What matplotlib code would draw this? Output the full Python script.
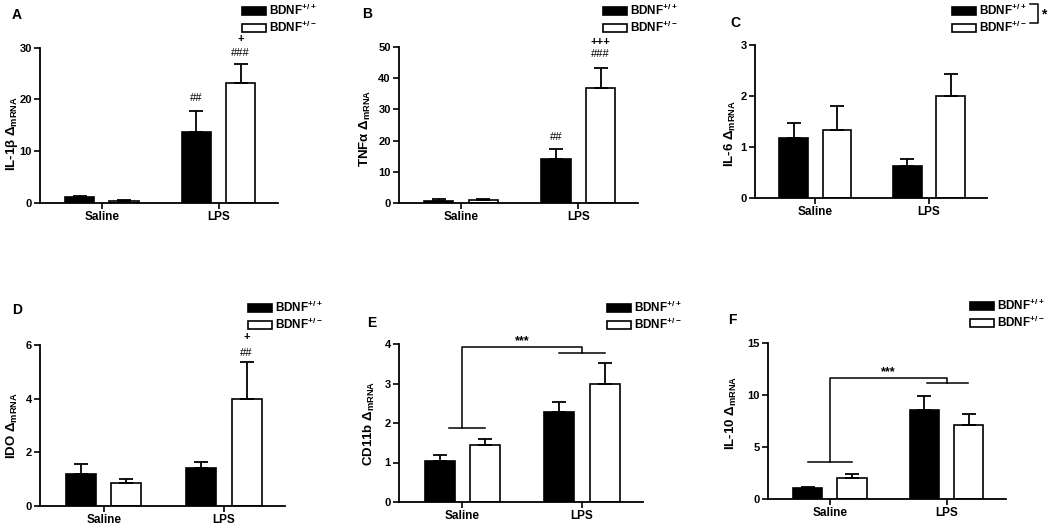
import matplotlib
matplotlib.use('Agg')
import matplotlib.pyplot as plt
import numpy as np
from matplotlib.lines import Line2D
from matplotlib.patches import Patch

plt.rcParams['font.family'] = ['Liberation Sans', 'DejaVu Sans']
plt.rcParams['font.weight'] = 'bold'
plt.rcParams['mathtext.fontset'] = 'custom'
plt.rcParams['mathtext.rm'] = 'Liberation Sans:bold'
plt.rcParams['mathtext.it'] = 'Liberation Sans:bold'
plt.rcParams['mathtext.bf'] = 'Liberation Sans:bold'

groups = ['Saline', 'LPS']
genotypes = ['BDNF$^{+/+}$', 'BDNF$^{+/-}$']

# mean and top of error bar (SEM), [Saline, LPS]
il1b_wt = [1.1, 13.8];   il1b_wt_top = [1.4, 17.7]
il1b_het = [0.4, 23.1];  il1b_het_top = [0.5, 26.9]
tnf_wt = [0.8, 14.0];    tnf_wt_top = [1.2, 17.2]
tnf_het = [1.1, 37.0];   tnf_het_top = [1.4, 43.3]
il6_wt = [1.18, 0.63];   il6_wt_top = [1.47, 0.77]
il6_het = [1.33, 2.0];   il6_het_top = [1.81, 2.44]
ido_wt = [1.2, 1.42];    ido_wt_top = [1.55, 1.63]
ido_het = [0.85, 4.0];   ido_het_top = [1.0, 5.35]
cd11b_wt = [1.03, 2.27]; cd11b_wt_top = [1.18, 2.52]
cd11b_het = [1.45, 3.0]; cd11b_het_top = [1.6, 3.52]
il10_wt = [1.05, 8.6];   il10_wt_top = [1.2, 9.9]
il10_het = [2.0, 7.1];   il10_het_top = [2.4, 8.15]

panels = [
    # letter, ylabel, wt, wt_top, het, het_top, yticks, axes px (left, right, y0, ytop),
    # legend px, ylabel pos, letter px
    ('A', r'IL-1$\beta$ $\Delta_{\mathrm{mRNA}}$', il1b_wt, il1b_wt_top, il1b_het, il1b_het_top,
     [0, 10, 20, 30], (40, 278, 203, 47.7), (242, 3), (-0.085, 0.45), (12, 15)),
    ('B', r'TNF$\alpha$ $\Delta_{\mathrm{mRNA}}$', tnf_wt, tnf_wt_top, tnf_het, tnf_het_top,
     [0, 10, 20, 30, 40, 50], (399, 638, 203, 47), (603, 3), (-0.11, 0.48), (362, 14)),
    ('C', r'IL-6 $\Delta_{\mathrm{mRNA}}$', il6_wt, il6_wt_top, il6_het, il6_het_top,
     [0, 1, 2, 3], (755, 987, 198, 45), (952, 3), (-0.075, 0.42), (730, 23)),
    ('D', r'IDO $\Delta_{\mathrm{mRNA}}$', ido_wt, ido_wt_top, ido_het, ido_het_top,
     [0, 2, 4, 6], (40, 285, 506, 345), (248, 300), (-0.08, 0.5), (12, 310)),
    ('E', r'CD11b $\Delta_{\mathrm{mRNA}}$', cd11b_wt, cd11b_wt_top, cd11b_het, cd11b_het_top,
     [0, 1, 2, 3, 4], (399, 643, 502, 344), (607, 300), (-0.09, 0.5), (367, 323)),
    ('F', r'IL-10 $\Delta_{\mathrm{mRNA}}$', il10_wt, il10_wt_top, il10_het, il10_het_top,
     [0, 5, 10, 15], (768, 1006, 499, 343), (970, 298), (-0.12, 0.55), (728, 320)),
]

# significance marks above bars: panel -> list of (group, genotype, y, text)
marks = {
    'A': [(1, 0, 20.2, '##'), (1, 1, 29.0, '###'), (1, 1, 31.7, '+')],
    'B': [(1, 0, 21.2, '##'), (1, 1, 47.8, '###'), (1, 1, 51.6, '+++')],
    'D': [(1, 1, 5.7, '##'), (1, 1, 6.3, '+')],
}
# main-effect brackets: saline line, LPS line, top
brackets = {
    'E': dict(sal=(-0.11, 0.19, 1.87), lps=(0.81, 1.19, 3.78), top=3.93, star_x=0.5),
    'F': dict(sal=(-0.19, 0.19, 3.55), lps=(0.83, 1.18, 11.2), top=11.65, star_x=0.5),
}

W, H = 1050, 525
fig = plt.figure(figsize=(W / 100, H / 100), dpi=100)

x = np.arange(len(groups))
bw = 0.25
off = 0.19

for (letter, ylab, wt, wt_top, het, het_top, yt, (l, r, y0, yt_px), (lx, ly),
     (labx, laby), (ltx, lty)) in panels:
    ax = fig.add_axes([l / W, 1 - y0 / H, (r - l) / W, (y0 - yt_px) / H])
    wt = np.array(wt); het = np.array(het)
    err_wt = np.array(wt_top) - wt
    err_het = np.array(het_top) - het
    ax.bar(x - off, wt, bw, color='black', edgecolor='black', linewidth=1.2,
           yerr=[np.zeros(2), err_wt], capsize=5,
           error_kw=dict(elinewidth=1.3, capthick=1.3, ecolor='black'))
    ax.bar(x + off, het, bw, color='white', edgecolor='black', linewidth=1.2,
           yerr=[np.zeros(2), err_het], capsize=5,
           error_kw=dict(elinewidth=1.3, capthick=1.3, ecolor='black'))
    ax.set_xlim(-0.53, 1.51)
    ax.set_ylim(yt[0], yt[-1])
    ax.set_yticks(yt)
    ax.set_xticks(x)
    ax.set_xticklabels(groups, fontsize=8.5, fontweight='bold')
    ax.tick_params(axis='y', labelsize=8, width=1.2, length=4, pad=2)
    ax.tick_params(axis='x', width=1.2, length=4, pad=2)
    for t in ax.get_yticklabels():
        t.set_fontweight('bold')
    for s in ['top', 'right']:
        ax.spines[s].set_visible(False)
    for s in ['left', 'bottom']:
        ax.spines[s].set_linewidth(1.3)
    ax.set_ylabel(ylab, fontsize=9.5, fontweight='bold')
    ax.yaxis.set_label_coords(labx, laby)

    fig.text(ltx / W, 1 - lty / H, letter,
             fontsize=10, fontweight='bold', va='center', ha='left')

    for g, k, yv, txt in marks.get(letter, []):
        ax.text(g + (off if k else -off), yv, txt, ha='center', va='center',
                fontsize=8, fontweight='bold' if '+' in txt else 'normal', clip_on=False)

    if letter in brackets:
        b = brackets[letter]
        s0, s1, sy = b['sal']
        p0, p1, py = b['lps']
        top = b['top']
        kw = dict(color='black', lw=1.1, clip_on=False)
        ax.plot([s0, s1], [sy, sy], **kw)
        ax.plot([0, 0, 1, 1], [sy, top, top, py], **kw)
        ax.plot([p0, p1], [py, py], **kw)
        ax.text(b['star_x'], top, '***', ha='center', va='bottom', fontsize=9, clip_on=False)

    handles = [Patch(facecolor='black', edgecolor='black', linewidth=1.2),
               Patch(facecolor='white', edgecolor='black', linewidth=1.2)]
    fig.legend(handles, genotypes, loc='upper left', bbox_to_anchor=(lx / W, 1 - ly / H),
               frameon=False, borderpad=0, borderaxespad=0, handlelength=2.0,
               handleheight=0.65, handletextpad=0.3, labelspacing=0.15,
               prop=dict(size=8.5, weight='bold'))

# bracket next to legend in C
fig.lines.append(Line2D([1030 / W, 1038 / W, 1038 / W, 1030 / W],
                        [1 - 4 / H, 1 - 4 / H, 1 - 23 / H, 1 - 23 / H],
                        color='black', lw=1.1, transform=fig.transFigure))
fig.text(1041 / W, 1 - 14 / H, '*', fontsize=10, fontweight='bold', va='center', ha='left')

fig.savefig('out.png', dpi=100)
